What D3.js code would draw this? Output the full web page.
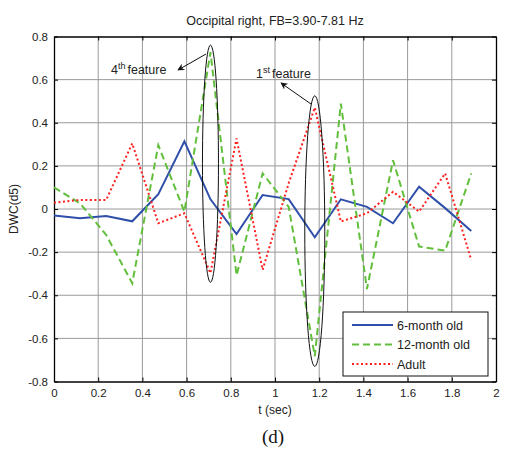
<!DOCTYPE html>
<html>
<head>
<meta charset="utf-8">
<script src="https://cdn.jsdelivr.net/npm/d3@7"></script>
<style>
  body { margin: 0; background: #fff; }
  svg { display: block; font-family: Arial, "Liberation Sans", sans-serif; }
</style>
</head>
<body>
<svg id="chart"></svg>
<script>
// sample times (sec)
var times = [0, 0.118, 0.236, 0.354, 0.472, 0.59, 0.708, 0.826, 0.944, 1.062, 1.18, 1.298, 1.416, 1.534, 1.652, 1.77, 1.888];
// series values
var sixMonth = [-0.03, -0.043, -0.032, -0.057, 0.069, 0.314, 0.045, -0.116, 0.065, 0.046, -0.131, 0.045, 0.01, -0.066, 0.103, 0.004, -0.102];
var twelveMonth = [0.1, 0.026, -0.12, -0.344, 0.296, -0.012, 0.727, -0.308, 0.165, 0.01, -0.683, 0.489, -0.371, 0.226, -0.174, -0.193, 0.165];
var adult = [0.029, 0.042, 0.042, 0.304, -0.066, -0.02, -0.297, 0.327, -0.282, 0.12, 0.47, -0.058, -0.02, 0.08, -0.012, 0.165, -0.236];
var seriesNames = ['6-month old', '12-month old', 'Adult'];
var xTicks = [0, 0.2, 0.4, 0.6, 0.8, 1, 1.2, 1.4, 1.6, 1.8, 2];
var yTicks = [-0.8, -0.6, -0.4, -0.2, 0, 0.2, 0.4, 0.6, 0.8];
// feature ellipses: centre time, top value, bottom value
var features = [
  {label: '4', t: 0.708, top: 0.76, bottom: -0.34},
  {label: '1', t: 1.18, top: 0.525, bottom: -0.73}
];

function drawChart() {
    var svg = d3.select('#chart')
        .attr('width', 506)
        .attr('height', 466);

    var margin = {top: 36.5, right: 10, bottom: 84.5, left: 54},
        width = 496 - margin.left,
        height = 381.5 - margin.top;

    var canvas = svg.append('g')
        .attr('transform', 'translate(' + margin.left + ',' + margin.top + ')');

    var x = d3.scaleLinear().domain([0, 2]).range([0, width]);
    var y = d3.scaleLinear().domain([-0.8, 0.8]).range([height, 0]);

    //grid lines
    canvas.append('g').selectAll('line').data(xTicks.slice(1, -1))
        .enter().append('line')
        .attr('x1', d => x(d)).attr('x2', d => x(d))
        .attr('y1', 0).attr('y2', height)
        .attr('stroke', '#9a9a9a').attr('stroke-width', 1);
    canvas.append('g').selectAll('line').data(yTicks.slice(1, -1))
        .enter().append('line')
        .attr('x1', 0).attr('x2', width)
        .attr('y1', d => y(d)).attr('y2', d => y(d))
        .attr('stroke', '#9a9a9a').attr('stroke-width', 1);

    //axes with inward ticks
    var tickFmt = d => String(d);

    canvas.append('g')
        .attr('transform', 'translate(0,' + height + ')')
        .call(d3.axisBottom(x).tickValues(xTicks).tickFormat(tickFmt).tickSizeInner(-4).tickSizeOuter(0).tickPadding(7));
    canvas.append('g')
        .call(d3.axisLeft(y).tickValues(yTicks).tickFormat(tickFmt).tickSizeInner(-4).tickSizeOuter(0).tickPadding(6));
    canvas.append('g')
        .call(d3.axisTop(x).tickValues(xTicks).tickFormat('').tickSizeInner(-4).tickSizeOuter(0));
    canvas.append('g')
        .attr('transform', 'translate(' + width + ',0)')
        .call(d3.axisRight(y).tickValues(yTicks).tickFormat('').tickSizeInner(-4).tickSizeOuter(0));

    canvas.selectAll('.domain').attr('stroke', '#000').attr('stroke-width', 1.3);
    canvas.selectAll('.tick line').attr('stroke', '#000');
    canvas.selectAll('.tick text').attr('font-size', 11.5).attr('fill', '#222');

    //series lines
    var line = d3.line().x((d, i) => x(times[i])).y(d => y(d));
    var styles = [
        {data: sixMonth, color: '#2f4fa8', dash: null},
        {data: twelveMonth, color: '#62bf3c', dash: '7,4'},
        {data: adult, color: '#ff2020', dash: '2,2.5'}
    ];
    styles.forEach(s => {
        canvas.append('path')
            .datum(s.data)
            .attr('fill', 'none')
            .attr('stroke', s.color)
            .attr('stroke-width', 2)
            .attr('stroke-dasharray', s.dash)
            .attr('d', line);
    });

    //feature ellipses
    canvas.selectAll('.feat').data(features).enter().append('ellipse')
        .attr('cx', d => x(d.t))
        .attr('cy', d => (y(d.top) + y(d.bottom)) / 2)
        .attr('rx', d => (d.label === '4' ? 8 : 10))
        .attr('ry', d => (y(d.bottom) - y(d.top)) / 2)
        .attr('fill', 'none')
        .attr('stroke', '#111')
        .attr('stroke-width', 1);

    //annotations
    svg.append('defs').append('marker')
        .attr('id', 'arrow')
        .attr('viewBox', '0 0 10 10')
        .attr('refX', 9).attr('refY', 5)
        .attr('markerWidth', 9).attr('markerHeight', 7)
        .attr('orient', 'auto')
        .append('path').attr('d', 'M0,0 L10,5 L0,10 L3,5 Z').attr('fill', '#111');

    var notes = [
        {text: '4', sup: 'th', tx: 111, ty: 74, from: [206, 54], to: [178, 70]},
        {text: '1', sup: 'st', tx: 256, ty: 78, from: [311, 104], to: [281, 83]}
    ];
    notes.forEach(n => {
        var t = svg.append('text')
            .attr('x', n.tx).attr('y', n.ty)
            .attr('font-size', 12.5).attr('fill', '#222');
        t.append('tspan').text(n.text);
        t.append('tspan').attr('dy', -5).attr('font-size', 9).text(n.sup);
        t.append('tspan').attr('dy', 5).attr('dx', 2).text('feature');
        svg.append('line')
            .attr('x1', n.from[0]).attr('y1', n.from[1])
            .attr('x2', n.to[0]).attr('y2', n.to[1])
            .attr('stroke', '#111').attr('stroke-width', 1)
            .attr('marker-end', 'url(#arrow)');
    });

    //legend
    var legend = svg.append('g').attr('transform', 'translate(343,312)');
    legend.append('rect')
        .attr('width', 145).attr('height', 64)
        .attr('fill', '#fff').attr('stroke', '#111').attr('stroke-width', 1);
    styles.forEach((s, i) => {
        var ly = 13 + i * 19.5;
        legend.append('line')
            .attr('x1', 9).attr('x2', 50)
            .attr('y1', ly).attr('y2', ly)
            .attr('stroke', s.color).attr('stroke-width', 2)
            .attr('stroke-dasharray', s.dash);
        legend.append('text')
            .attr('x', 54).attr('y', ly + 4.5)
            .attr('font-size', 12.5).attr('fill', '#222')
            .text(seriesNames[i]);
    });

    //titles
    svg.append('text')
        .attr('x', 275).attr('y', 25)
        .attr('text-anchor', 'middle')
        .attr('font-size', 12.5).attr('fill', '#222')
        .text('Occipital right, FB=3.90-7.81 Hz');
    svg.append('text')
        .attr('x', 275).attr('y', 414)
        .attr('text-anchor', 'middle')
        .attr('font-size', 12).attr('fill', '#222')
        .text('t (sec)');
    svg.append('text')
        .attr('transform', 'translate(18,' + 209 + ') rotate(-90)')
        .attr('text-anchor', 'middle')
        .attr('font-size', 12).attr('fill', '#222')
        .text('DWC(d5)');
    svg.append('text')
        .attr('x', 273).attr('y', 443)
        .attr('text-anchor', 'middle')
        .attr('font-family', '"Liberation Serif", "DejaVu Serif", serif')
        .attr('font-size', 19).attr('fill', '#111')
        .text('(d)');
}

drawChart();
</script>
</body>
</html>
